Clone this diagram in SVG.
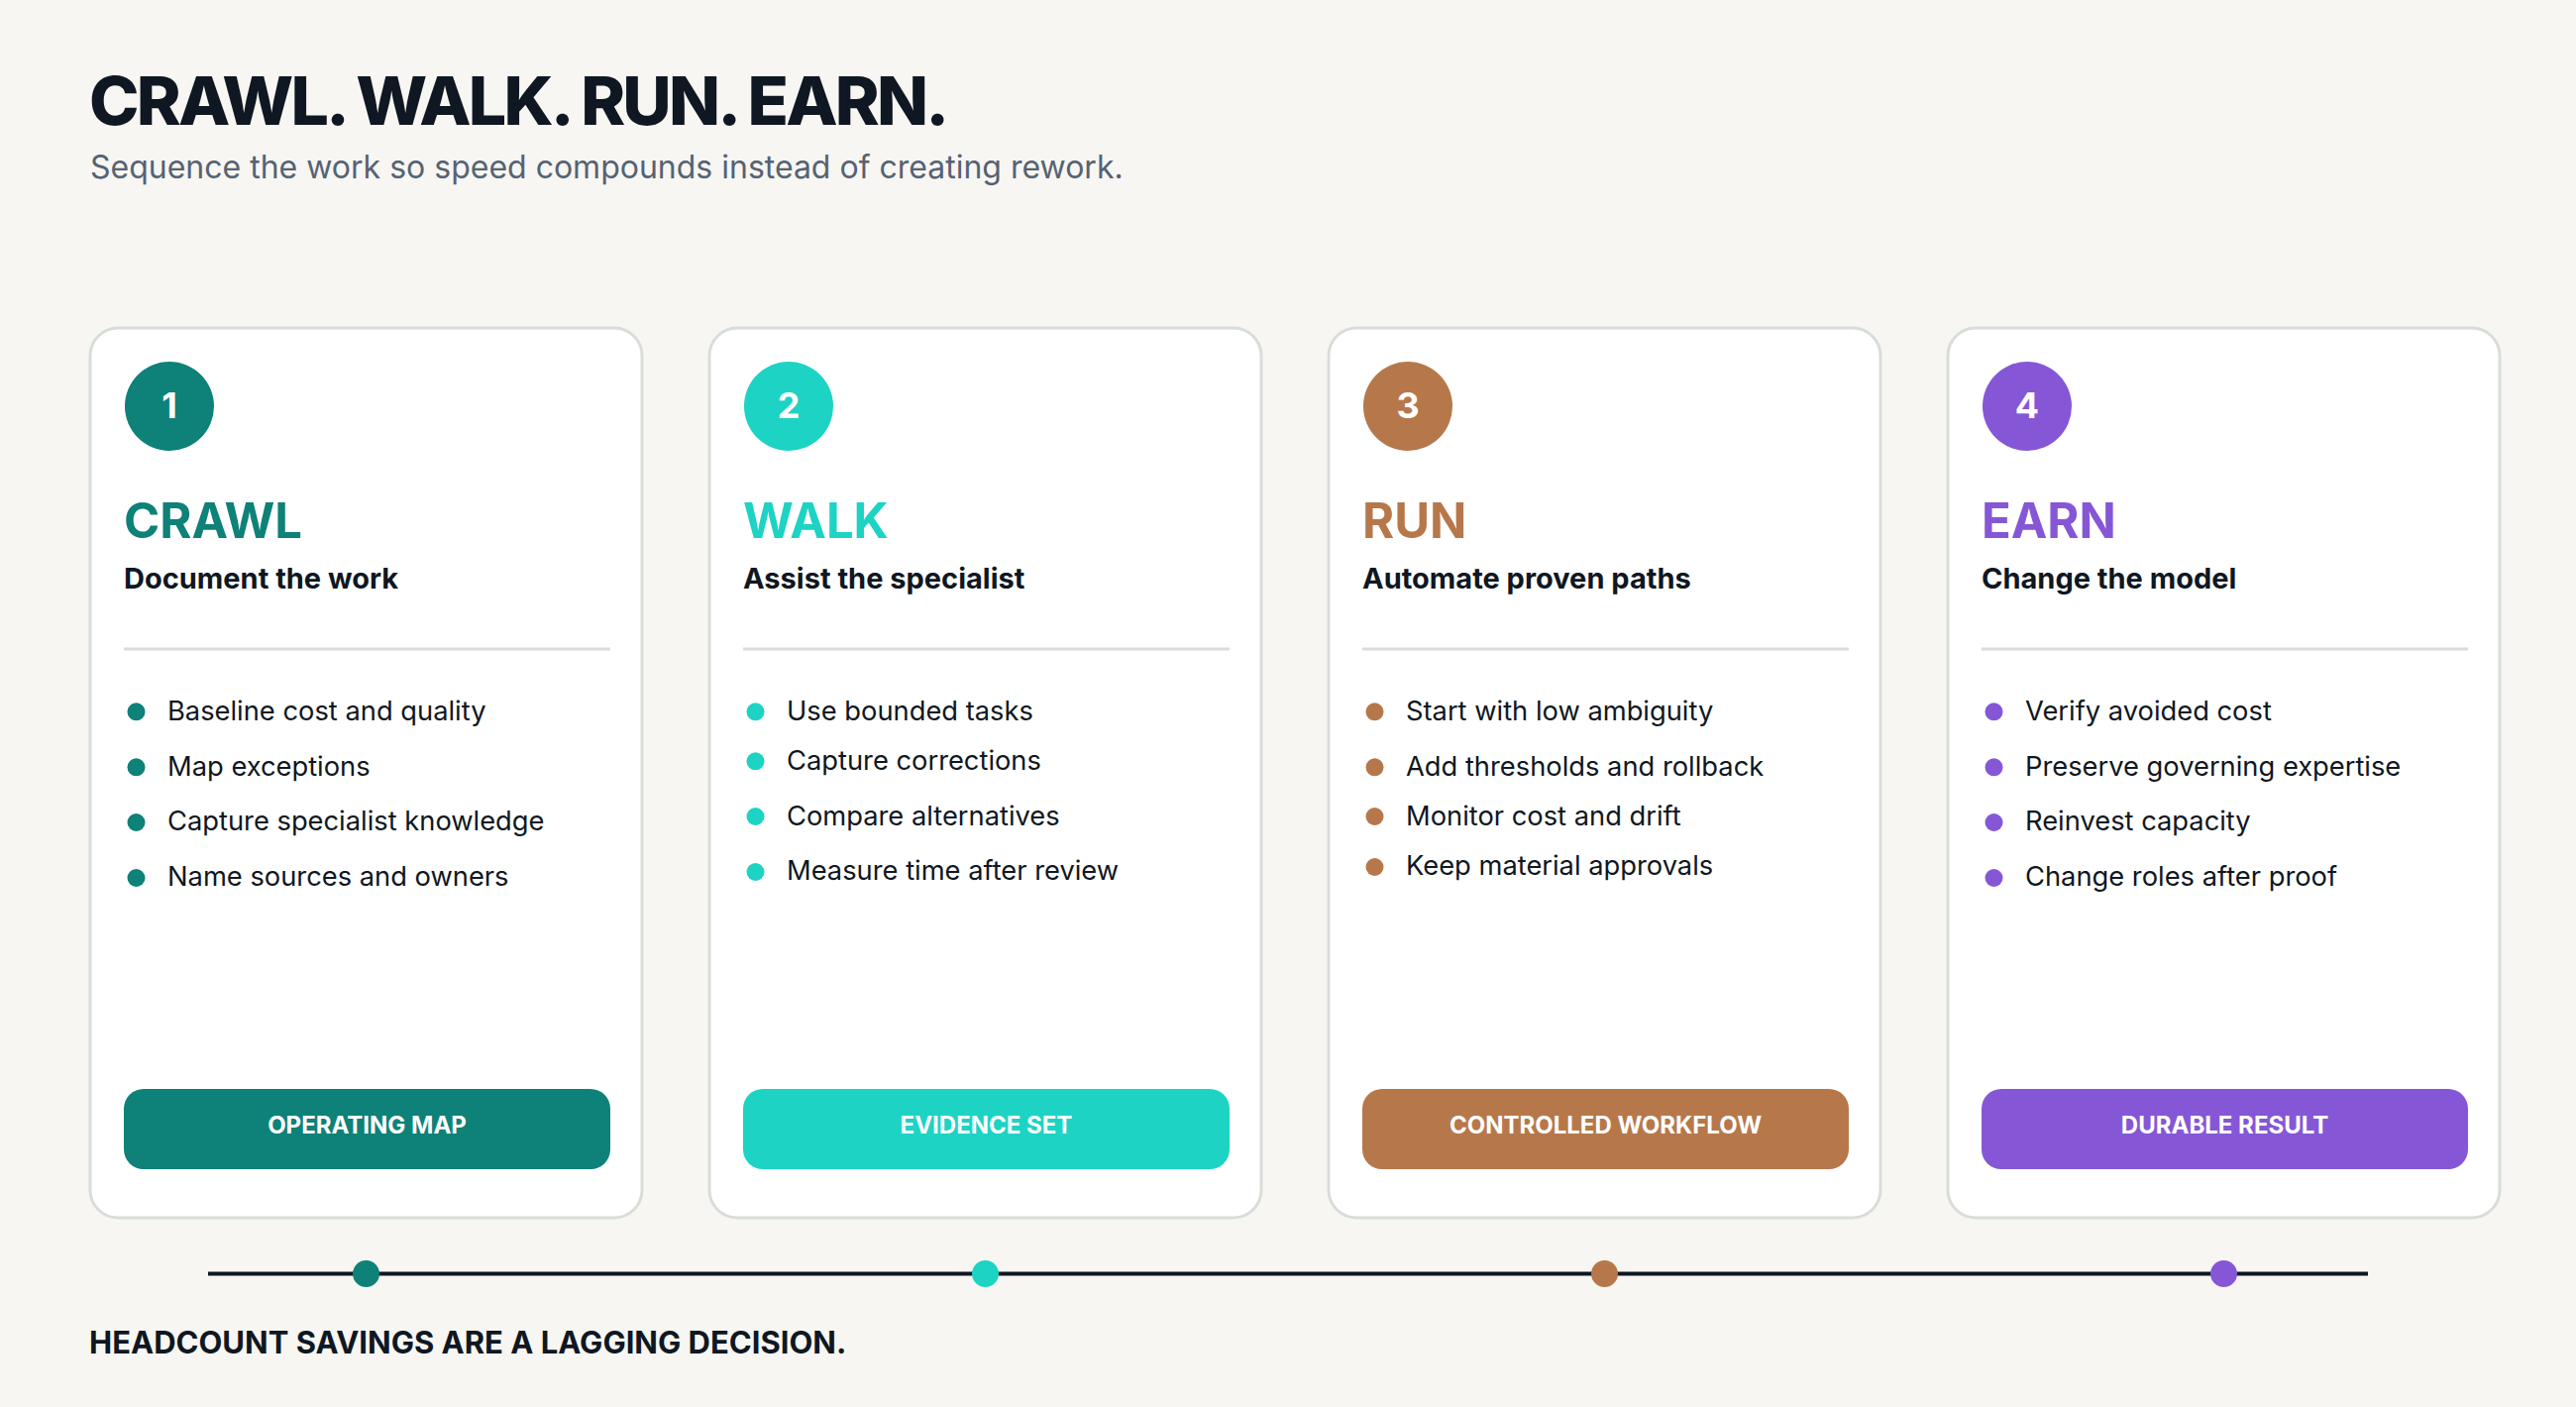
<svg xmlns="http://www.w3.org/2000/svg" width="2600" height="1420" viewBox="0 0 2600 1420">
<defs>
<style>
text{font-family:Inter,"Noto Sans","Liberation Sans",sans-serif}
.card{fill:#ffffff;stroke:#d9ddd8;stroke-width:3}
.num{fill:#ffffff;font-size:36px;font-weight:700;text-anchor:middle}
.head{font-size:49px;font-weight:700}
.sub{fill:#0f1722;font-size:29px;font-weight:700}
.div{stroke:#d9ddd8;stroke-width:3}
.item{fill:#0f1722;font-size:27.3px;font-weight:400}
.btn{fill:#ffffff;font-size:24px;font-weight:700;text-anchor:middle}
.c1{fill:#0e8178}.c2{fill:#1dd3c4}.c3{fill:#b6784b}.c4{fill:#8557d6}
</style>
</defs>
<rect x="0" y="0" width="2600" height="1420" fill="#f7f6f2"/>
<g id="header">
<text x="90" y="126" font-size="68" font-weight="800" fill="#0f1722" letter-spacing="-2.8">CRAWL. WALK. RUN. EARN.</text>
<text x="91" y="180" font-size="32" font-weight="400" fill="#566273">Sequence the work so speed compounds instead of creating rework.</text>
</g>
<g id="connectors">
<line x1="210" y1="1285.5" x2="2390" y2="1285.5" stroke="#0f1722" stroke-width="4"/>
<circle class="c1" cx="369.5" cy="1285.5" r="13.5"/>
<circle class="c2" cx="994.5" cy="1285.5" r="13.5"/>
<circle class="c3" cx="1619.5" cy="1285.5" r="13.5"/>
<circle class="c4" cx="2244.5" cy="1285.5" r="13.5"/>
</g>
<g id="card-crawl">
<rect class="card" x="91" y="331" width="557" height="898" rx="28"/>
<circle class="c1" cx="171" cy="410" r="45"/>
<text class="num" x="171" y="422">1</text>
<text class="head c1" x="125" y="543">CRAWL</text>
<text class="sub" x="125" y="594">Document the work</text>
<line class="div" x1="125" y1="655" x2="616" y2="655"/>
<circle class="c1" cx="137.5" cy="718.3" r="9"/><text class="item" x="169" y="726.7">Baseline cost and quality</text>
<circle class="c1" cx="137.5" cy="774.3" r="9"/><text class="item" x="169" y="782.7">Map exceptions</text>
<circle class="c1" cx="137.5" cy="830" r="9"/><text class="item" x="169" y="838.4">Capture specialist knowledge</text>
<circle class="c1" cx="137.5" cy="886" r="9"/><text class="item" x="169" y="894.4">Name sources and owners</text>
<rect class="c1" x="125" y="1099" width="491" height="81" rx="20"/>
<text class="btn" x="370.5" y="1144">OPERATING MAP</text>
</g>
<g id="card-walk">
<rect class="card" x="716" y="331" width="557" height="898" rx="28"/>
<circle class="c2" cx="796" cy="410" r="45"/>
<text class="num" x="796" y="422">2</text>
<text class="head c2" x="750" y="543">WALK</text>
<text class="sub" x="750" y="594">Assist the specialist</text>
<line class="div" x1="750" y1="655" x2="1241" y2="655"/>
<circle class="c2" cx="762.5" cy="718.3" r="9"/><text class="item" x="794" y="726.7">Use bounded tasks</text>
<circle class="c2" cx="762.5" cy="768.3" r="9"/><text class="item" x="794" y="776.7">Capture corrections</text>
<circle class="c2" cx="762.5" cy="824" r="9"/><text class="item" x="794" y="832.7">Compare alternatives</text>
<circle class="c2" cx="762.5" cy="880" r="9"/><text class="item" x="794" y="888.4">Measure time after review</text>
<rect class="c2" x="750" y="1099" width="491" height="81" rx="20"/>
<text class="btn" x="995.5" y="1144">EVIDENCE SET</text>
</g>
<g id="card-run">
<rect class="card" x="1341" y="331" width="557" height="898" rx="28"/>
<circle class="c3" cx="1421" cy="410" r="45"/>
<text class="num" x="1421" y="422">3</text>
<text class="head c3" x="1375" y="543">RUN</text>
<text class="sub" x="1375" y="594">Automate proven paths</text>
<line class="div" x1="1375" y1="655" x2="1866" y2="655"/>
<circle class="c3" cx="1387.5" cy="718.3" r="9"/><text class="item" x="1419" y="726.7">Start with low ambiguity</text>
<circle class="c3" cx="1387.5" cy="774.3" r="9"/><text class="item" x="1419" y="782.7">Add thresholds and rollback</text>
<circle class="c3" cx="1387.5" cy="824" r="9"/><text class="item" x="1419" y="832.7">Monitor cost and drift</text>
<circle class="c3" cx="1387.5" cy="875" r="9"/><text class="item" x="1419" y="883.3">Keep material approvals</text>
<rect class="c3" x="1375" y="1099" width="491" height="81" rx="20"/>
<text class="btn" x="1620.5" y="1144">CONTROLLED WORKFLOW</text>
</g>
<g id="card-earn">
<rect class="card" x="1966" y="331" width="557" height="898" rx="28"/>
<circle class="c4" cx="2046" cy="410" r="45"/>
<text class="num" x="2046" y="422">4</text>
<text class="head c4" x="2000" y="543">EARN</text>
<text class="sub" x="2000" y="594">Change the model</text>
<line class="div" x1="2000" y1="655" x2="2491" y2="655"/>
<circle class="c4" cx="2012.5" cy="718.3" r="9"/><text class="item" x="2044" y="726.7">Verify avoided cost</text>
<circle class="c4" cx="2012.5" cy="774.3" r="9"/><text class="item" x="2044" y="782.7">Preserve governing expertise</text>
<circle class="c4" cx="2012.5" cy="830" r="9"/><text class="item" x="2044" y="838.4">Reinvest capacity</text>
<circle class="c4" cx="2012.5" cy="886" r="9"/><text class="item" x="2044" y="894.4">Change roles after proof</text>
<rect class="c4" x="2000" y="1099" width="491" height="81" rx="20"/>
<text class="btn" x="2245.5" y="1144">DURABLE RESULT</text>
</g>
<g id="footer">
<text x="90" y="1366" font-size="31" font-weight="700" fill="#0f1722">HEADCOUNT SAVINGS ARE A LAGGING DECISION.</text>
</g>
</svg>
